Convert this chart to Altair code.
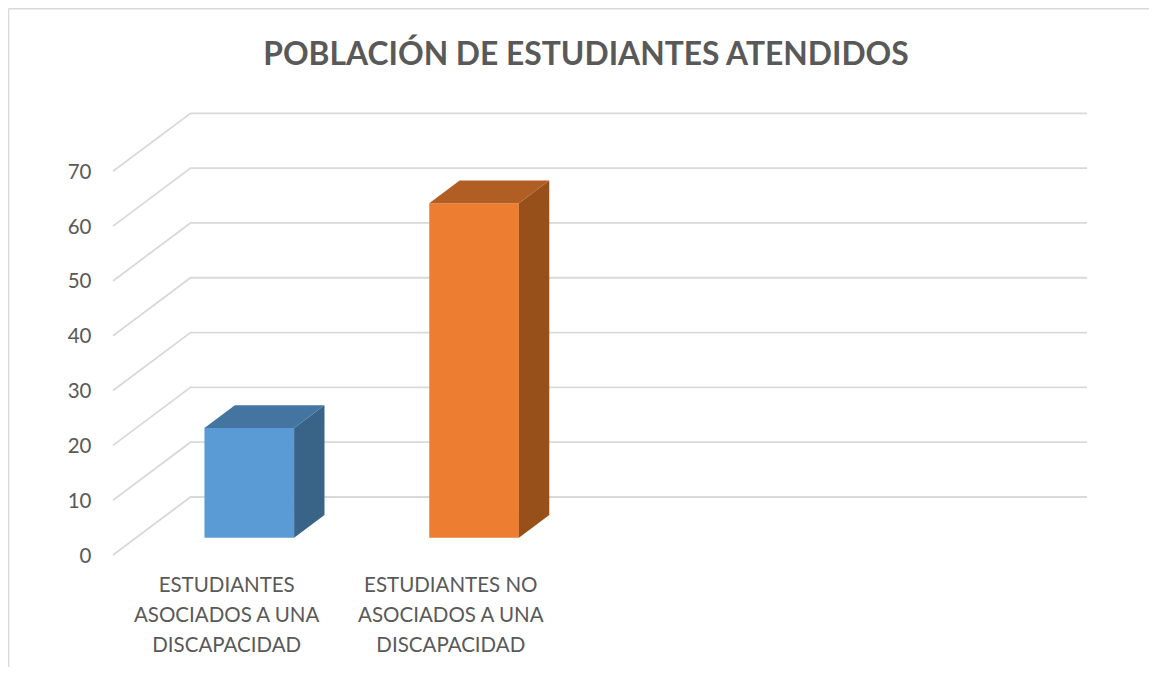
import altair as alt
import pandas as pd

TITLE = "POBLACIÓN DE ESTUDIANTES ATENDIDOS"
categories = ["ESTUDIANTES ASOCIADOS A UNA DISCAPACIDAD", "ESTUDIANTES NO ASOCIADOS A UNA DISCAPACIDAD"]
values = [20, 61]
front_colors = ["#5b9bd5", "#ed7d31"]
top_colors = ["#4475a0", "#b15e24"]
side_colors = ["#396488", "#98501b"]
y_ticks = [0, 10, 20, 30, 40, 50, 60, 70]
slots = [0.505, 1.508]

N_SLOTS = 4
DEPTH_X = 0.3458      # oblique projection: x shift of the full depth, in slots
DEPTH_Y = 10.58       # oblique projection: y shift of the full depth, in value units
BAR_W = 0.4
D0, D1 = 0.298, 0.69  # bar depth range
TEXT = "#595959"
GRID = "#d9d9d9"
FONT = "Lato"

# walls
wall = []
for v in y_ticks:
    wall.append(dict(v=v, x=0, y=v))
    wall.append(dict(v=v, x=DEPTH_X, y=v + DEPTH_Y))
    wall.append(dict(v=v, x=N_SLOTS + DEPTH_X, y=v + DEPTH_Y))
wall = pd.DataFrame(wall)

# bar faces
faces = []
for i, (c, val) in enumerate(zip(slots, values)):
    l, r = c - BAR_W / 2, c + BAR_W / 2
    lx, rx = l + D0 * DEPTH_X, r + D0 * DEPTH_X
    ddx = (D1 - D0) * DEPTH_X
    ddy = (D1 - D0) * DEPTH_Y
    by = D0 * DEPTH_Y
    ty = val + by
    f = f"{i}front"
    faces += [dict(face=f, fill=front_colors[i], x=lx, y=by, y2=ty),
              dict(face=f, fill=front_colors[i], x=rx, y=by, y2=ty)]
    f = f"{i}side"
    faces += [dict(face=f, fill=side_colors[i], x=rx, y=by, y2=ty),
              dict(face=f, fill=side_colors[i], x=rx + ddx, y=by + ddy, y2=ty + ddy)]
    f = f"{i}top"
    faces += [dict(face=f, fill=top_colors[i], x=lx, y=ty, y2=ty),
              dict(face=f, fill=top_colors[i], x=lx + ddx, y=ty, y2=ty + ddy),
              dict(face=f, fill=top_colors[i], x=rx, y=ty, y2=ty + ddy),
              dict(face=f, fill=top_colors[i], x=rx + ddx, y=ty + ddy, y2=ty + ddy)]
faces = pd.DataFrame(faces)

x_scale = alt.Scale(domain=[0, N_SLOTS + DEPTH_X], zero=False, nice=False)
y_scale = alt.Scale(domain=[0, 70 + DEPTH_Y], zero=False, nice=False)

label_expr = ("datum.value < 1 ? ['ESTUDIANTES','ASOCIADOS A UNA','DISCAPACIDAD']"
              " : ['ESTUDIANTES NO','ASOCIADOS A UNA','DISCAPACIDAD']")

x_axis = alt.Axis(values=[0.505, 1.505], labelExpr=label_expr, title=None, domain=False, ticks=False,
                  grid=False, labelFont=FONT, labelFontSize=20.5, labelColor=TEXT, labelLineHeight=30,
                  labelPadding=20, labelAngle=0, labelOverlap=False, labelFlush=False, labelLimit=0)
y_axis = alt.Axis(values=y_ticks, title=None, domain=False, ticks=False, grid=False,
                  labelFont=FONT, labelFontSize=20.5, labelColor=TEXT, labelPadding=22, labelOffset=1)

walls = alt.Chart(wall).mark_line(color=GRID, strokeWidth=1.8, strokeJoin="miter").encode(
    x=alt.X("x:Q", scale=x_scale, axis=x_axis),
    y=alt.Y("y:Q", scale=y_scale, axis=y_axis),
    detail="v:N",
)

bars = alt.Chart(faces).mark_area(opacity=1, interpolate="linear").encode(
    x=alt.X("x:Q", scale=x_scale),
    y=alt.Y("y:Q", scale=y_scale),
    y2="y2:Q",
    color=alt.Color("fill:N", scale=None),
    detail="face:N",
)

border_top = alt.Chart(pd.DataFrame({"a": [0]})).mark_rule(color=GRID, strokeWidth=1.6).encode(
    x=alt.value(-104.5), x2=alt.value(1036), y=alt.value(-104.5))
border_left = alt.Chart(pd.DataFrame({"a": [0]})).mark_rule(color=GRID, strokeWidth=1.6).encode(
    x=alt.value(-104.5), y=alt.value(-104.5), y2=alt.value(554))

chart = alt.layer(border_top, border_left, walls, bars).properties(
    width=974,
    height=441.7,
    padding={"left": 105, "top": 105.3, "right": 62, "bottom": 112},
    autosize=alt.AutoSizeParams(type="none"),
    title=alt.TitleParams(TITLE, font=FONT, fontSize=31.8, fontWeight="bold", color=TEXT,
                          anchor="middle", dx=-14, offset=-64),
).configure_view(stroke=None)

chart.save("out.html", embed_options={"renderer": "svg", "actions": False})
